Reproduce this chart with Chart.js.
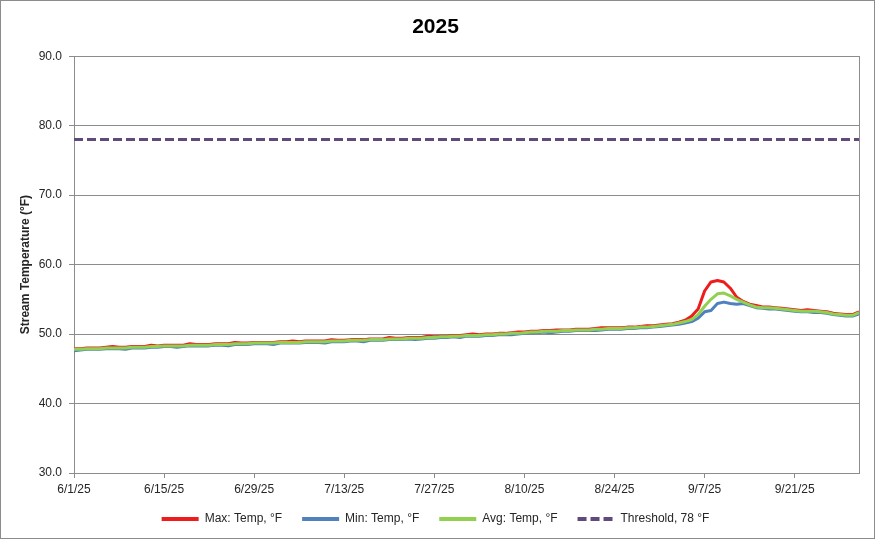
<!DOCTYPE html>
<html>
<head>
<meta charset="utf-8">
<title>2025</title>
<script src="https://cdn.jsdelivr.net/npm/chart.js@4.4.1/dist/chart.umd.min.js"></script>
<style>
  html, body { margin: 0; padding: 0; background: #fff; }
  #wrap { width: 875px; height: 539px; }
</style>
</head>
<body>
<div id="wrap"><canvas id="chart" width="875" height="539"></canvas></div>
<script>
/* DATA - daily values 6/1/25 .. 10/1/25 */
const maxTemp = [
  47.9, 47.9, 48.0, 48.0, 48.0, 48.1, 48.2, 48.1, 48.1, 48.2, 48.2, 48.2, 48.4, 48.3,
  48.4, 48.4, 48.4, 48.4, 48.6, 48.5, 48.5, 48.5, 48.6, 48.6, 48.6, 48.8, 48.7, 48.7,
  48.8, 48.8, 48.8, 48.8, 48.9, 48.9, 49.0, 48.9, 49.0, 49.0, 49.0, 49.0, 49.2, 49.1,
  49.1, 49.2, 49.2, 49.2, 49.3, 49.3, 49.3, 49.5, 49.4, 49.4, 49.5, 49.5, 49.5, 49.7,
  49.6, 49.7, 49.7, 49.8, 49.8, 49.9, 50.0, 49.9, 50.0, 50.0, 50.1, 50.1, 50.2, 50.3,
  50.3, 50.4, 50.4, 50.5, 50.5, 50.6, 50.6, 50.6, 50.7, 50.7, 50.7, 50.8, 50.9, 50.9,
  50.9, 50.9, 51.0, 51.0, 51.1, 51.2, 51.2, 51.3, 51.4, 51.5, 51.7, 52.0,
  52.6, 53.6, 56.2, 57.5, 57.7, 57.5, 56.6, 55.3, 54.7, 54.3, 54.1, 53.9, 53.9, 53.8,
  53.7, 53.6, 53.5, 53.4, 53.5, 53.4, 53.3, 53.2, 53.0, 52.9, 52.8, 52.8, 53.2
];
const minTemp = [
  47.6, 47.7, 47.8, 47.8, 47.8, 47.9, 47.9, 47.9, 47.8, 48.0, 48.0, 48.0, 48.1, 48.1,
  48.2, 48.2, 48.1, 48.2, 48.3, 48.3, 48.3, 48.3, 48.4, 48.4, 48.3, 48.5, 48.5, 48.5,
  48.6, 48.6, 48.6, 48.5, 48.7, 48.7, 48.7, 48.7, 48.8, 48.8, 48.8, 48.7, 48.9, 48.9,
  48.9, 49.0, 49.0, 48.9, 49.1, 49.1, 49.1, 49.2, 49.2, 49.2, 49.3, 49.2, 49.3, 49.4,
  49.4, 49.5, 49.5, 49.6, 49.5, 49.7, 49.7, 49.7, 49.8, 49.8, 49.9, 49.9, 49.9, 50.0,
  50.1, 50.2, 50.2, 50.3, 50.2, 50.3, 50.4, 50.4, 50.5, 50.5, 50.5, 50.5, 50.6, 50.7,
  50.7, 50.7, 50.8, 50.8, 50.9, 50.9, 51.0, 51.1, 51.2, 51.3, 51.4, 51.6,
  51.8, 52.3, 53.2, 53.4, 54.4, 54.6, 54.4, 54.3, 54.4, 54.1, 53.8, 53.7, 53.6, 53.6,
  53.5, 53.4, 53.3, 53.2, 53.2, 53.1, 53.1, 53.0, 52.8, 52.7, 52.6, 52.6, 52.9
];
const avgTemp = [
  47.8, 47.8, 47.9, 47.9, 47.9, 48.0, 48.0, 48.0, 48.0, 48.1, 48.1, 48.1, 48.2, 48.2,
  48.3, 48.3, 48.3, 48.3, 48.4, 48.4, 48.4, 48.4, 48.5, 48.5, 48.5, 48.6, 48.6, 48.6,
  48.7, 48.7, 48.7, 48.7, 48.8, 48.8, 48.8, 48.8, 48.9, 48.9, 48.9, 48.9, 49.0, 49.0,
  49.0, 49.1, 49.1, 49.1, 49.2, 49.2, 49.2, 49.3, 49.3, 49.3, 49.4, 49.4, 49.4, 49.5,
  49.5, 49.6, 49.6, 49.7, 49.7, 49.8, 49.8, 49.8, 49.9, 49.9, 50.0, 50.0, 50.1, 50.1,
  50.2, 50.3, 50.3, 50.4, 50.4, 50.4, 50.5, 50.5, 50.6, 50.6, 50.6, 50.7, 50.7, 50.8,
  50.8, 50.8, 50.9, 50.9, 51.0, 51.0, 51.1, 51.2, 51.3, 51.4, 51.6, 51.8,
  52.1, 52.8, 54.0, 55.0, 55.8, 55.9, 55.5, 55.0, 54.6, 54.2, 53.9, 53.8, 53.8, 53.7,
  53.6, 53.5, 53.4, 53.3, 53.3, 53.3, 53.2, 53.1, 52.9, 52.8, 52.7, 52.7, 53.1
];
const threshold = 78;
const yTicks = { min: 30, max: 90, step: 10 };
const xTickStep = 14;

/* date labels for each day */
const dates = [];
for (let i = 0; i < avgTemp.length; i++) {
  const d = new Date(2025, 5, 1 + i);
  dates.push((d.getMonth() + 1) + "/" + d.getDate() + "/25");
}
const lastDay = dates.length - 1;

function points(arr) {
  return arr.map((v, i) => ({ x: i, y: v }));
}

const gridColor = "#8c8c8c";
const textColor = "#262626";

Chart.defaults.font.family = '"Liberation Sans", Arial, sans-serif';
Chart.defaults.font.size = 12;
Chart.defaults.color = textColor;

/* plot right edge + outer border */
const framePlugin = {
  id: "frame",
  beforeDatasetsDraw(chart) {
    const { ctx, chartArea: a } = chart;
    const x = Math.round(a.right) + 0.5;
    ctx.save();
    ctx.strokeStyle = gridColor;
    ctx.lineWidth = 1;
    ctx.beginPath();
    ctx.moveTo(x, Math.round(a.top));
    ctx.lineTo(x, Math.round(a.bottom));
    ctx.stroke();
    ctx.restore();
  },
  afterDraw(chart) {
    const { ctx, width, height } = chart;
    ctx.save();
    ctx.strokeStyle = "#8c8c8c";
    ctx.lineWidth = 1;
    ctx.strokeRect(0.5, 0.5, width - 1, height - 1);
    ctx.restore();
  }
};

const ctx = document.getElementById("chart");

new Chart(ctx, {
  type: "line",
  data: {
    datasets: [
      { label: "Max: Temp, °F", data: points(maxTemp), borderColor: "#ee1c1c", order: 3 },
      { label: "Min: Temp, °F", data: points(minTemp), borderColor: "#4f81bd", order: 2 },
      { label: "Avg: Temp, °F", data: points(avgTemp), borderColor: "#92d050", order: 1 },
      {
        label: "Threshold, 78 °F",
        data: [{ x: 0, y: threshold }, { x: lastDay, y: threshold }],
        borderColor: "#604a7b",
        borderDash: [9, 4],
        order: 0
      }
    ]
  },
  options: {
    responsive: false,
    animation: false,
    layout: { padding: { left: 12, right: 16, top: 0, bottom: 4 } },
    elements: {
      point: { radius: 0 },
      line: { borderWidth: 3, tension: 0, fill: false, borderJoinStyle: "round" }
    },
    plugins: {
      tooltip: { enabled: false },
      title: {
        display: true,
        text: "2025",
        color: "#000",
        font: { size: 21, weight: "bold" },
        padding: { top: 15, bottom: 16 }
      },
      legend: {
        position: "bottom",
        labels: {
          usePointStyle: true,
          pointStyle: "line",
          pointStyleWidth: 37,
          boxHeight: 12,
          padding: 10,
          color: textColor,
          font: { size: 12 },
          generateLabels(chart) {
            const ds = chart.data.datasets;
            return ds.map((d, i) => ({
              text: d.label + (i < ds.length - 1 ? "   " : ""),
              fillStyle: d.borderColor,
              strokeStyle: d.borderColor,
              fontColor: textColor,
              lineWidth: 4,
              lineDash: d.borderDash || [],
              lineCap: "butt",
              pointStyle: "line",
              hidden: false,
              datasetIndex: i
            }));
          }
        }
      }
    },
    scales: {
      x: {
        type: "linear",
        min: 0,
        max: lastDay,
        afterFit(s) { s.height = 30; },
        grid: { drawOnChartArea: false, drawTicks: true, tickLength: 5, color: gridColor },
        border: { color: gridColor },
        ticks: {
          stepSize: xTickStep,
          includeBounds: false,
          autoSkip: false,
          maxRotation: 0,
          padding: 4,
          color: textColor,
          callback: v => dates[v]
        }
      },
      y: {
        min: yTicks.min,
        max: yTicks.max,
        afterFit(s) { s.width = 62; },
        grid: { color: gridColor, tickLength: 5 },
        border: { color: gridColor },
        ticks: {
          stepSize: yTicks.step,
          padding: 7,
          color: textColor,
          callback: v => v.toFixed(1)
        },
        title: {
          display: true,
          text: "Stream Temperature (°F)",
          color: textColor,
          font: { size: 12, weight: "bold" },
          padding: { top: 6, bottom: 0 }
        }
      }
    }
  },
  plugins: [framePlugin]
});
</script>
</body>
</html>
